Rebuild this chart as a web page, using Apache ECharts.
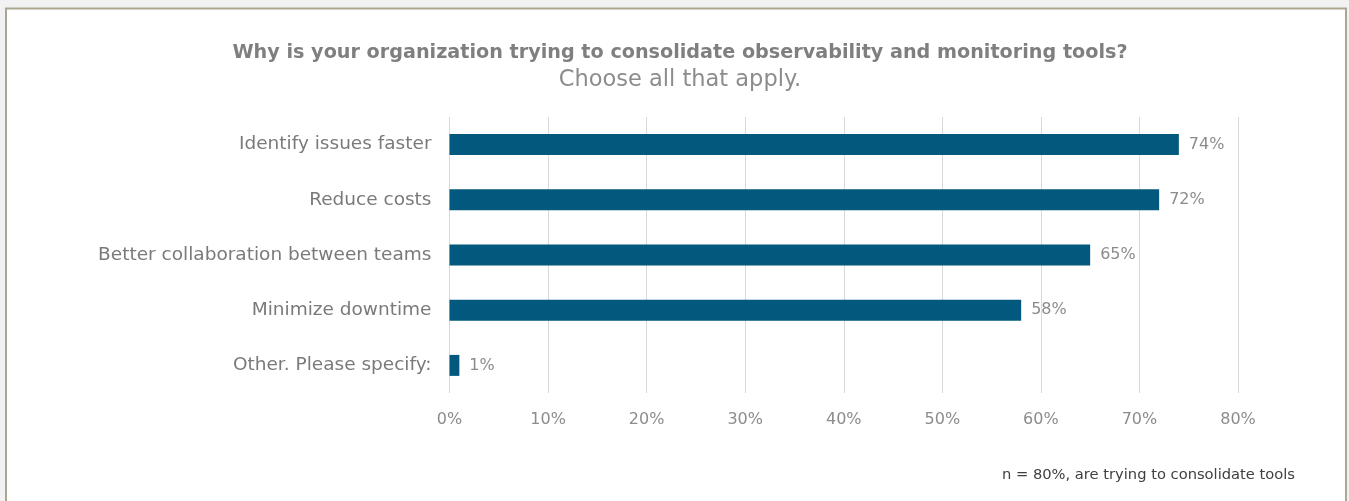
<!DOCTYPE html>
<html>
<head>
<meta charset="utf-8">
<script src="https://cdn.jsdelivr.net/npm/echarts@6/dist/echarts.min.js"></script>
<style>
  html, body { margin: 0; padding: 0; background: #f2f2f2; }
  #chart { width: 1349px; height: 501px; }
</style>
</head>
<body>
<div id="chart"></div>
<script>
// Survey answers, top to bottom as shown
const categories = [
  'Identify issues faster',
  'Reduce costs',
  'Better collaboration between teams',
  'Minimize downtime',
  'Other. Please specify:'
];
const shares = [74, 72, 65, 58, 1];
const axisTicks = [0, 10, 20, 30, 40, 50, 60, 70, 80];

const titleText = 'Why is your organization trying to consolidate observability and monitoring tools?';
const subtitleText = 'Choose all that apply.';
const noteText = 'n = 80%, are trying to consolidate tools';

const FONT = 'DejaVu Sans';
const TITLE_CENTER_X = 680;

const chart = echarts.init(document.getElementById('chart'), null, { renderer: 'canvas' });

chart.setOption({
  backgroundColor: '#f2f2f2',
  animation: false,
  graphic: [
    {
      type: 'rect',
      z: -10,
      shape: { x: 6, y: 8.5, width: 1340, height: 500 },
      style: { fill: '#ffffff', stroke: '#aba68f', lineWidth: 2 }
    },
    {
      type: 'text',
      x: TITLE_CENTER_X,
      y: 44,
      style: { text: titleText, font: 'bold 19.2px ' + FONT, fill: '#7f7f7f', textAlign: 'center', textVerticalAlign: 'top' }
    },
    {
      type: 'text',
      x: TITLE_CENTER_X,
      y: 69,
      style: { text: subtitleText, font: '22.5px ' + FONT, fill: '#8c8c8c', textAlign: 'center', textVerticalAlign: 'top' }
    },
    {
      type: 'text',
      right: 54,
      top: 468,
      style: { text: noteText, font: '14.7px ' + FONT, fill: '#404040' }
    }
  ],
  grid: { left: 449.5, right: 111, top: 117, height: 276, containLabel: false },
  xAxis: {
    type: 'value',
    min: axisTicks[0],
    max: axisTicks[axisTicks.length - 1],
    interval: 10,
    axisLine: { show: false },
    axisTick: { show: false },
    splitLine: { lineStyle: { color: '#d9d9d9', width: 1 } },
    axisLabel: {
      formatter: v => v + '%',
      color: '#8c8c8c',
      fontFamily: FONT,
      fontSize: 16,
      margin: 19
    }
  },
  yAxis: {
    type: 'category',
    data: categories,
    inverse: true,
    axisLine: { show: false },
    axisTick: { show: false },
    axisLabel: {
      color: '#7a7a7a',
      fontFamily: FONT,
      fontSize: 18.5,
      margin: 18
    }
  },
  series: [{
    type: 'bar',
    data: shares,
    barWidth: '38%',
    itemStyle: { color: '#02597d' },
    label: {
      show: true,
      position: 'right',
      distance: 10,
      formatter: p => p.value + '%',
      color: '#8c8c8c',
      fontFamily: FONT,
      fontSize: 16
    }
  }]
});
</script>
</body>
</html>
